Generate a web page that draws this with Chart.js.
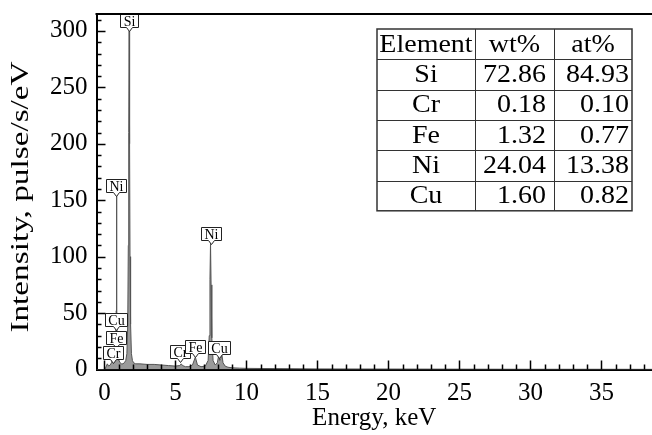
<!DOCTYPE html>
<html>
<head>
<meta charset="utf-8">
<script src="https://cdn.jsdelivr.net/npm/chart.js@4.4.1/dist/chart.umd.min.js"></script>
<style>
  html, body { margin: 0; padding: 0; background: #fff; }
  #wrap { width: 652px; height: 435px; }
</style>
</head>
<body>
<div id="wrap"><canvas id="spec" width="652" height="435"></canvas></div>
<script>
// EDS spectrum - energia (keV) x intensidade (pulse/s/eV)
const energia = [-0.6, 0, 0.1, 0.2, 0.3, 0.4, 0.5, 0.57, 0.63, 0.7, 0.75, 0.8, 0.83, 0.85, 0.87, 0.9, 0.93, 0.97,
  1.02, 1.1, 1.2, 1.3, 1.4, 1.5, 1.58, 1.64, 1.68, 1.71, 1.74, 1.77, 1.8, 1.84, 1.9, 1.97, 2.05, 2.2, 2.5,
  3.0, 3.5, 4.0, 4.5, 5.0, 5.3, 5.41, 5.5, 5.7, 5.95, 6.2, 6.4, 6.55, 6.8, 7.1, 7.3, 7.38, 7.43, 7.47, 7.51,
  7.56, 7.65, 7.8, 7.95, 8.04, 8.12, 8.2, 8.26, 8.35, 8.5, 8.7, 9.0, 9.5, 10, 12, 15, 20, 25, 30, 35, 40];
const intensidade = [0, 0, 2, 5, 3, 4, 6, 9, 7, 12, 22, 40, 52, 155, 50, 30, 18, 12,
  8, 6, 5, 5, 6, 8, 14, 40, 110, 210, 300, 200, 100, 40, 14, 8, 6, 5, 5,
  4.5, 4.5, 4, 3.5, 3, 3.5, 5, 3.5, 2.5, 2.5, 4, 11, 4, 2.5, 3, 8, 30, 80, 112, 75,
  28, 8, 4, 6, 12, 8, 10, 14, 6, 3, 2, 1.5, 1.2, 1, 0.8, 0.5, 0.4, 0.3, 0.2, 0.2, 0.1];

// rótulos dos picos
const picoNome = ['Si', 'Ni', 'Cu', 'Fe', 'Cr', 'Ni', 'Cr', 'Fe', 'Cu'];
const picoEnergia = [1.74, 0.82, 0.8, 0.8, 0.6, 7.47, 5.35, 6.4, 8.1];
const picoAltura = [300, 154, 35, 19, 6, 111, 7, 11, 10];

// ticks
const xTicks = [0, 5, 10, 15, 20, 25, 30, 35];
const yTicks = [0, 50, 100, 150, 200, 250, 300];

// tabela de composição
const tabCabecalho = ['Element', 'wt%', 'at%'];
const tabElemento = ['Si', 'Cr', 'Fe', 'Ni', 'Cu'];
const tabWt = ['72.86', '0.18', '1.32', '24.04', '1.60'];
const tabAt = ['84.93', '0.10', '0.77', '13.38', '0.82'];

const SERIF = '"Liberation Serif", "Times New Roman", serif';

// texto esticado na horizontal (o original é meio largo)
function textoLargo(ctx, txt, x, y, sx, align) {
  ctx.save();
  ctx.translate(x, y);
  ctx.scale(sx, 1);
  ctx.textAlign = align;
  ctx.fillText(txt, 0, 0);
  ctx.restore();
}

// ticks internos + borda superior + título do eixo y
const ticksInternos = {
  id: 'ticksInternos',
  afterDraw(chart) {
    const { ctx, chartArea: ca, scales: { x, y } } = chart;
    ctx.save();
    ctx.strokeStyle = '#000';
    ctx.lineWidth = 1.5;
    ctx.beginPath();
    for (let v = 0; v <= 38; v++) {
      const px = Math.round(x.getPixelForValue(v)) + 0.5;
      const len = v % 5 === 0 ? 9 : 5;
      ctx.moveTo(px, ca.bottom);
      ctx.lineTo(px, ca.bottom - len);
    }
    for (let v = 10; v <= 310; v += 10) {
      const py = Math.round(y.getPixelForValue(v)) + 0.5;
      const len = v % 50 === 0 ? 9 : 5;
      ctx.moveTo(ca.left, py);
      ctx.lineTo(ca.left + len, py);
    }
    ctx.stroke();
    ctx.lineWidth = 2;
    ctx.beginPath();
    ctx.moveTo(ca.left - 1, ca.top);
    ctx.lineTo(ca.right, ca.top);
    ctx.stroke();

    // título y
    ctx.translate(21, 197);
    ctx.rotate(-Math.PI / 2);
    ctx.font = '25px ' + SERIF;
    ctx.fillStyle = '#000';
    ctx.textBaseline = 'middle';
    textoLargo(ctx, 'Intensity, pulse/s/eV', 0, 0, 1.33, 'center');
    ctx.restore();
  }
};

// caixinhas com ponteiro
const rotulosPicos = {
  id: 'rotulosPicos',
  afterDatasetsDraw(chart) {
    const { ctx, scales: { x, y } } = chart;
    ctx.save();
    ctx.font = '14px ' + SERIF;
    ctx.textAlign = 'center';
    ctx.textBaseline = 'middle';
    picoNome.forEach((nome, i) => {
      const cx = Math.round(x.getPixelForValue(picoEnergia[i])) + 0.5;
      const tip = Math.round(y.getPixelForValue(picoAltura[i])) + 0.5;
      const w = Math.round(ctx.measureText(nome).width) + 6;
      const h = 13;
      const bot = tip - 4;
      const top = bot - h;
      const l = cx - w / 2, r = cx + w / 2;
      ctx.beginPath();
      ctx.moveTo(l, top);
      ctx.lineTo(r, top);
      ctx.lineTo(r, bot);
      ctx.lineTo(cx + 3, bot);
      ctx.lineTo(cx, tip);
      ctx.lineTo(cx - 3, bot);
      ctx.lineTo(l, bot);
      ctx.closePath();
      ctx.fillStyle = '#fff';
      ctx.fill();
      ctx.strokeStyle = '#222';
      ctx.lineWidth = 1;
      ctx.stroke();
      ctx.fillStyle = '#000';
      ctx.fillText(nome, cx, top + h / 2 + 1);
    });
    ctx.restore();
  }
};

// tabela no canto superior direito
const tabela = {
  id: 'tabela',
  afterDraw(chart) {
    const ctx = chart.ctx;
    const L = 377, T = 29, rowH = 30.3;
    const cols = [377, 475, 554, 632];
    const linhas = [tabCabecalho].concat(tabElemento.map((e, i) => [e, tabWt[i], tabAt[i]]));
    const B = T + rowH * linhas.length;
    ctx.save();
    ctx.fillStyle = '#fff';
    ctx.fillRect(L, T, cols[3] - L, B - T);
    ctx.strokeStyle = '#333';
    ctx.lineWidth = 1;
    ctx.beginPath();
    for (let i = 1; i < linhas.length; i++) {
      const yy = Math.round(T + rowH * i) + 0.5;
      ctx.moveTo(L, yy); ctx.lineTo(cols[3], yy);
    }
    [cols[1], cols[2]].forEach(cx => { ctx.moveTo(cx + 0.5, T); ctx.lineTo(cx + 0.5, B); });
    ctx.stroke();
    ctx.lineWidth = 1.5;
    ctx.strokeRect(L, T, cols[3] - L, B - T);

    ctx.font = '25px ' + SERIF;
    ctx.fillStyle = '#000';
    ctx.textBaseline = 'middle';
    linhas.forEach((row, r) => {
      const cy = T + rowH * r + rowH / 2 + 1;
      row.forEach((txt, c) => {
        if (r === 0 || c === 0) {
          textoLargo(ctx, txt, (cols[c] + cols[c + 1]) / 2, cy, 1.12, 'center');
        } else {
          textoLargo(ctx, txt, cols[c + 1] - (c === 1 ? 8 : 3), cy, 1.12, 'right');
        }
      });
    });
    ctx.restore();
  }
};

new Chart(document.getElementById('spec'), {
  type: 'line',
  data: {
    datasets: [{
      data: energia.map((e, i) => ({ x: e, y: intensidade[i] })),
      borderColor: '#555',
      backgroundColor: '#9a9a9a',
      borderWidth: 1,
      fill: 'origin',
      pointRadius: 0,
      tension: 0
    }]
  },
  options: {
    responsive: false,
    animation: false,
    devicePixelRatio: 1,
    layout: { padding: { top: 14, right: 0, left: 0, bottom: 0 } },
    plugins: { legend: { display: false }, tooltip: { enabled: false } },
    scales: {
      x: {
        type: 'linear',
        min: -0.56,
        max: 38.56,
        afterBuildTicks: s => { s.ticks = xTicks.map(v => ({ value: v })); },
        afterFit: s => { s.height = 65.5; s.paddingLeft = 0; s.paddingRight = 0; },
        grid: { display: false, drawTicks: false },
        border: { display: true, color: '#000', width: 2 },
        ticks: { color: '#000', font: { family: SERIF, size: 25 }, padding: 9, maxRotation: 0 },
        title: { display: true, text: 'Energy, keV', color: '#000', font: { family: SERIF, size: 25 }, padding: { top: 0, bottom: 2 } }
      },
      y: {
        min: 0,
        max: 315,
        afterBuildTicks: s => { s.ticks = yTicks.map(v => ({ value: v })); },
        afterFit: s => { s.width = 96.5; s.paddingTop = 0; s.paddingBottom = 0; },
        grid: { display: false, drawTicks: false },
        border: { display: true, color: '#000', width: 2 },
        ticks: { color: '#000', font: { family: SERIF, size: 25 }, padding: 9 }
      }
    }
  },
  plugins: [ticksInternos, rotulosPicos, tabela]
});
</script>
</body>
</html>
